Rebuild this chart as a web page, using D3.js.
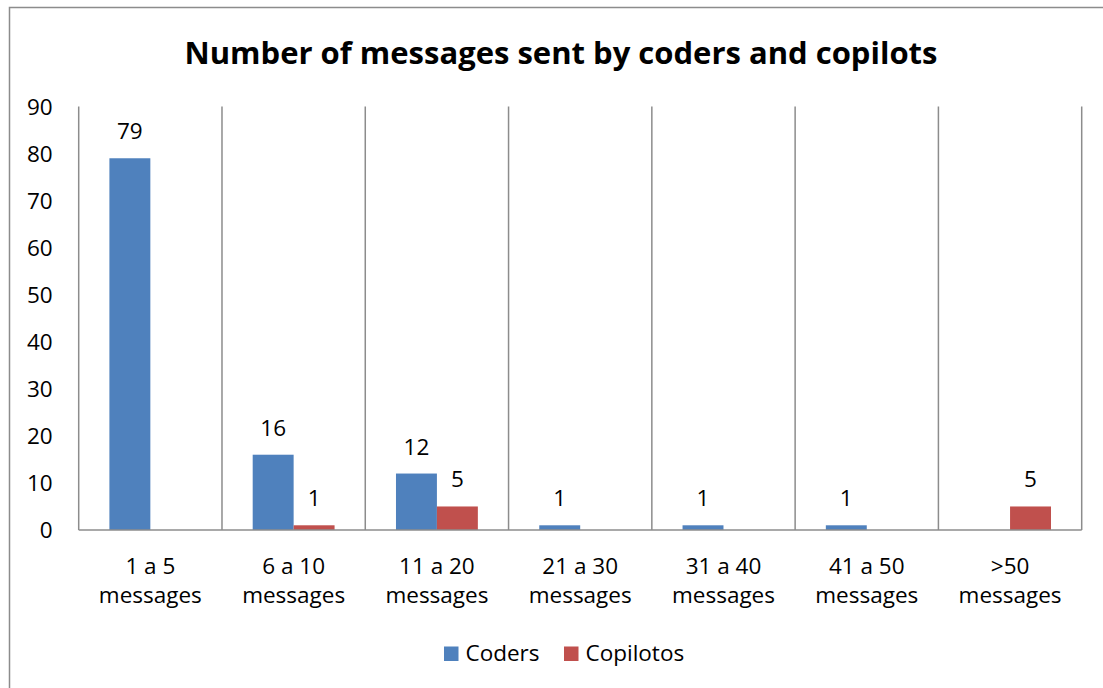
<!DOCTYPE html>
<html>
<head>
<meta charset="utf-8">
<script src="https://cdn.jsdelivr.net/npm/d3@7"></script>
<style>
  html, body { margin: 0; padding: 0; background: #fff; }
  svg { display: block; font-family: "Open Sans", sans-serif; }
</style>
</head>
<body>
<svg id="chart" width="1103" height="688"></svg>
<script>
// Message-count buckets and the two series
const categories = [["1 a 5", "messages"], ["6 a 10", "messages"], ["11 a 20", "messages"],
                    ["21 a 30", "messages"], ["31 a 40", "messages"], ["41 a 50", "messages"],
                    [">50", "messages"]];
const seriesNames = ["Coders", "Copilotos"];
const coders    = [79, 16, 12, 1, 1, 1, 0];
const copilotos = [0, 1, 5, 0, 0, 0, 5];
const yTicks = [0, 10, 20, 30, 40, 50, 60, 70, 80, 90];
const colors = ["#4F81BD", "#C0504D"];

const svg = d3.select("#chart");
const plot = { left: 78.7, right: 1081.7, top: 106.5, bottom: 530 };
const gridColor = "#8c8c8c";
const fs = 22.5;

// Outer chart frame
svg.append("rect")
  .attr("x", 9.5).attr("y", 7.5)
  .attr("width", 1110).attr("height", 700)
  .attr("fill", "#fff").attr("stroke", gridColor).attr("stroke-width", 1.5);

// Title
svg.append("text")
  .attr("x", 561).attr("y", 64)
  .attr("text-anchor", "middle")
  .attr("font-weight", "bold").attr("font-size", 31)
  .attr("fill", "#000")
  .text("Number of messages sent by coders and copilots");

const x = d3.scaleBand()
  .domain(d3.range(categories.length))
  .range([plot.left, plot.right])
  .paddingInner(0).paddingOuter(0);

// Two bars per category with a 150% gap
const barW = x.bandwidth() / 3.5;
const xs = d3.scaleBand()
  .domain(seriesNames)
  .range([(x.bandwidth() - 2 * barW) / 2, (x.bandwidth() + 2 * barW) / 2]);

const y = d3.scaleLinear().domain([0, 90]).range([plot.bottom, plot.top]);

// Vertical category separators
const bounds = d3.range(categories.length + 1).map(i => i < categories.length ? x(i) : plot.right);
svg.append("g").selectAll("line").data(bounds).join("line")
  .attr("x1", d => d).attr("x2", d => d)
  .attr("y1", plot.top).attr("y2", plot.bottom)
  .attr("stroke", gridColor).attr("stroke-width", 1.5);

// Y axis labels
const yAxis = d3.axisLeft(y).tickValues(yTicks).tickSize(0).tickPadding(26);
const yg = svg.append("g").attr("transform", `translate(${plot.left},0)`).call(yAxis);
yg.select(".domain").remove();
yg.selectAll("text").attr("font-size", fs).attr("font-family", "Open Sans, sans-serif")
  .attr("fill", "#000").attr("dy", "0.35em");

// Bars with value labels
const data = [coders, copilotos];
const groups = svg.append("g").selectAll("g").data(data).join("g")
  .attr("fill", (d, i) => colors[i]);
groups.each(function (vals, si) {
  const g = d3.select(this);
  const name = seriesNames[si];
  const items = vals.map((v, i) => ({ v, i })).filter(d => d.v > 0);
  g.selectAll("rect").data(items).join("rect")
    .attr("x", d => x(d.i) + xs(name))
    .attr("width", xs.bandwidth())
    .attr("y", d => y(d.v))
    .attr("height", d => y(0) - y(d.v));
  g.selectAll("text").data(items).join("text")
    .attr("x", d => x(d.i) + xs(name) + xs.bandwidth() / 2)
    .attr("y", d => y(d.v) - 19)
    .attr("text-anchor", "middle")
    .attr("font-size", fs).attr("fill", "#000")
    .text(d => d.v);
});

// Baseline
svg.append("line")
  .attr("x1", plot.left).attr("x2", plot.right)
  .attr("y1", plot.bottom).attr("y2", plot.bottom)
  .attr("stroke", gridColor).attr("stroke-width", 1.5);

// Category labels (two lines)
const xl = svg.append("g").selectAll("text").data(categories).join("text")
  .attr("text-anchor", "middle").attr("font-size", fs).attr("fill", "#000")
  .attr("transform", (d, i) => `translate(${x(i) + x.bandwidth() / 2},0)`);
xl.selectAll("tspan").data(d => d).join("tspan")
  .attr("x", 0).attr("y", (d, j) => 574 + j * 29)
  .text(d => d);

// Legend
const legendX = [444, 564];
const lg = svg.append("g").selectAll("g").data(seriesNames).join("g")
  .attr("transform", (d, i) => `translate(${legendX[i]},646.5)`);
lg.append("rect").attr("width", 14.5).attr("height", 14.5)
  .attr("fill", (d, i) => colors[i]);
lg.append("text").attr("x", 21.5).attr("y", 14.5).attr("font-size", fs).attr("fill", "#000")
  .text(d => d);
</script>
</body>
</html>
